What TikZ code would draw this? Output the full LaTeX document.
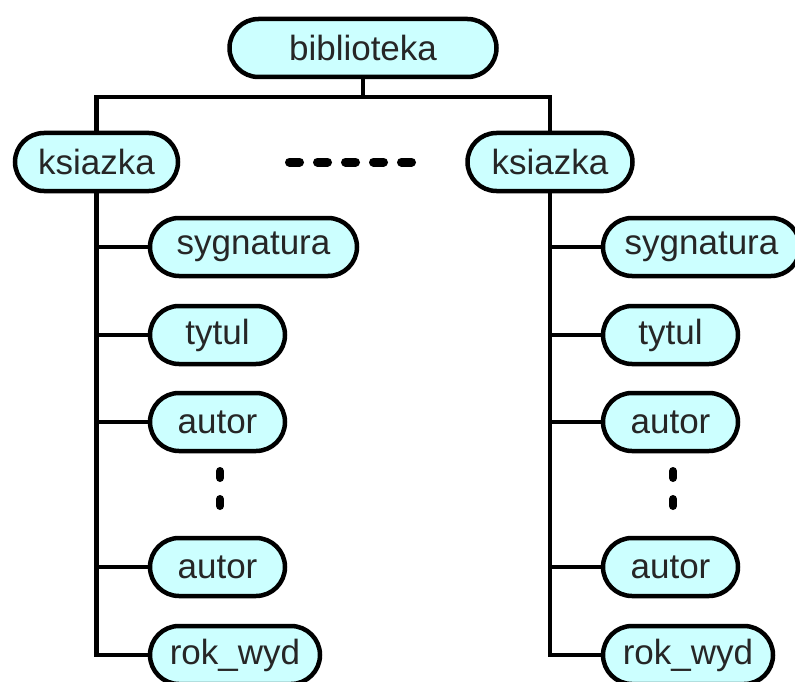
\documentclass[tikz,border=0pt]{standalone}
\usepackage{fontspec}
\setmainfont{Liberation Sans}
\definecolor{pillfill}{HTML}{CCFFFF}
\definecolor{pilltext}{HTML}{262626}
\begin{document}
\begin{tikzpicture}[x=1pt,y=-1pt,
  pill/.style={draw=black,line width=4.5pt,fill=pillfill,rounded corners=29pt,
    minimum height=58pt,inner sep=0pt,text=pilltext,
    font=\fontsize{35}{40}\selectfont},
  link/.style={line width=4.5pt,line cap=rect},
  dotsh/.style={line width=9pt,line cap=round,dash pattern=on 10pt off 18pt},
  dotsv/.style={line width=8pt,line cap=round,dash pattern=on 7pt off 21pt}]
\useasboundingbox (0,0) rectangle (795,682);
% root
\node[pill,minimum width=267pt] (bib) at (363,48) {biblioteka};
\node[pill,minimum width=163pt] (ks1) at (96.5,162) {ksiazka};
\node[pill,minimum width=165pt] (ks2) at (550,162) {ksiazka};
\coordinate (bar) at (363,97);
\draw[link] (bib.south) -- (bar) -| (ks1.north);
\draw[link] (bar) -| (ks2.north);
% horizontal ellipsis
\coordinate (eh1) at (289.5,162);
\coordinate (eh2) at (411.5,162);
\draw[dotsh] (eh1) -- (eh2);
% left subtree
\node[pill,minimum width=207pt] (sig1) at (253.5,247) {sygnatura};
\node[pill,minimum width=135pt] (tyt1) at (217.5,335) {tytul};
\node[pill,minimum width=135pt] (aut1) at (217.5,422) {autor};
\node[pill,minimum width=135pt] (autb1) at (217.5,567) {autor};
\node[pill,minimum width=170pt] (rok1) at (235,655) {rok\_wyd};
\draw[link] (ks1.south) |- (rok1.west);
\foreach \n in {sig1,tyt1,aut1,autb1}
  \draw[link] (ks1.south |- \n.west) -- (\n.west);
\coordinate (ev1a) at (220,471);
\coordinate (ev1b) at (220,506);
\draw[dotsv] (ev1a) -- (ev1b);
% right subtree
\node[pill,minimum width=197pt] (sig2) at (701.5,247) {sygnatura};
\node[pill,minimum width=135pt] (tyt2) at (670.5,335) {tytul};
\node[pill,minimum width=135pt] (aut2) at (670.5,422) {autor};
\node[pill,minimum width=135pt] (autb2) at (670.5,567) {autor};
\node[pill,minimum width=170pt] (rok2) at (688,655) {rok\_wyd};
\draw[link] (ks2.south) |- (rok2.west);
\foreach \n in {sig2,tyt2,aut2,autb2}
  \draw[link] (ks2.south |- \n.west) -- (\n.west);
\coordinate (ev2a) at (673,471);
\coordinate (ev2b) at (673,506);
\draw[dotsv] (ev2a) -- (ev2b);
\end{tikzpicture}
\end{document}
